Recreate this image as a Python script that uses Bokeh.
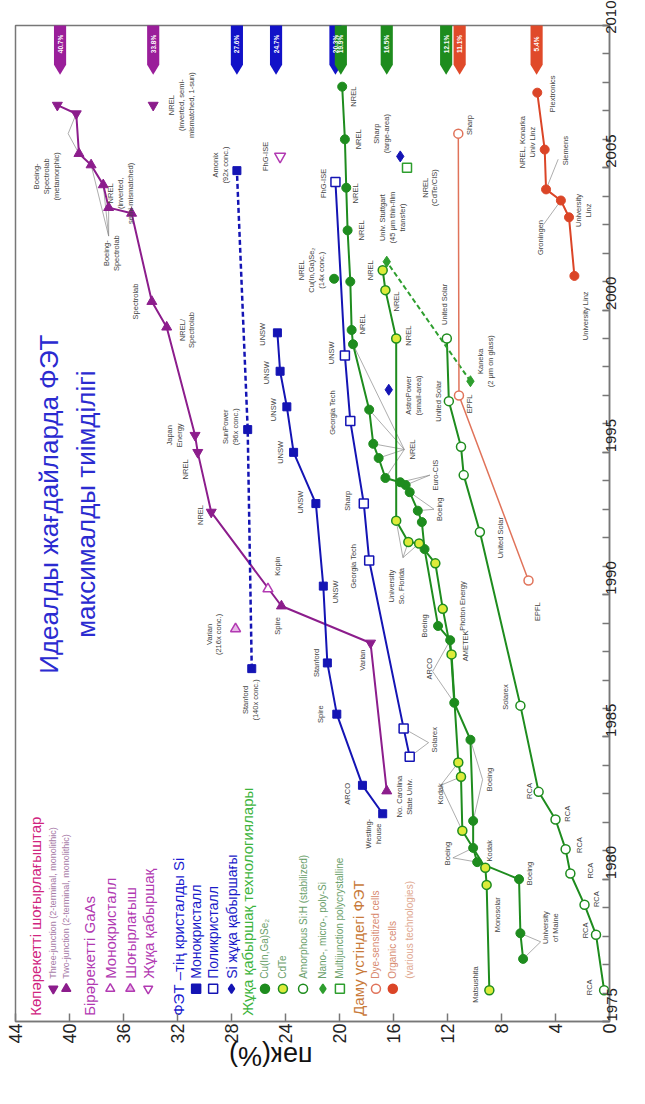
import math
from bokeh.plotting import figure
from bokeh.models import Range1d, FixedTicker, LinearAxis
from bokeh.core.properties import value
from bokeh.embed import file_html
from bokeh.resources import INLINE

FONT = "Liberation Sans"
ROT = math.pi / 2

# ---------------- data (efficiency %, year) ----------------
eff_ticks = [0, 4, 8, 12, 16, 20, 24, 28, 32, 36, 40, 44]
year_ticks = [1975, 1980, 1985, 1990, 1995, 2000, 2005, 2010]
year_minor = list(range(1975, 2011))

mj_year = [1983.1, 1988.3, 1989.6, 1992.9, 1995.0, 1995.6, 1999.4, 2000.3, 2003.4, 2003.6, 2004.4, 2005.1, 2005.5, 2006.9, 2007.2]
mj_eff = [16.5, 17.7, 24.3, 29.5, 30.5, 30.7, 32.8, 33.9, 35.4, 37.1, 37.5, 38.4, 39.3, 39.5, 40.9]
mj_kind = ["two", "three", "two", "three", "three", "three", "two", "two", "two", "two", "two", "two", "two", "three", "three"]
mj3_year = [2007.2]
mj3_eff = [33.8]

gaas_conc_year = [1988.8]
gaas_conc_eff = [27.7]
gaas_mono_year = [1990.2]
gaas_mono_eff = [25.3]
gaas_thin_year = [2005.4]
gaas_thin_eff = [24.4]

si_mono_year = [1982.3, 1983.3, 1985.8, 1987.6, 1990.3, 1993.2, 1995.0, 1996.6, 1997.85, 1999.2]
si_mono_eff = [16.8, 18.3, 20.2, 20.9, 21.2, 21.75, 23.4, 23.9, 24.4, 24.6]
si_conc_year = [1987.4, 1995.8, 2004.9]
si_conc_eff = [26.5, 26.8, 27.6]
si_multi_year = [1984.3, 1985.3, 1991.2, 1993.2, 1996.1, 1998.4, 2004.5]
si_multi_eff = [14.8, 15.25, 17.8, 18.2, 19.2, 19.6, 20.3]
si_thin_year = [1997.2, 2005.4]
si_thin_eff = [16.35, 15.5]

cigs_year = [1977.2, 1978.1, 1980.0, 1980.6, 1981.1, 1982.05, 1984.9, 1986.2, 1988.4, 1988.9, 1991.6, 1992.55,
             1992.95, 1993.6, 1993.85, 1993.95, 1994.1, 1994.8, 1995.3, 1996.5, 1998.8, 1999.3, 2001.0, 2002.8,
             2004.3, 2006.0, 2007.85]
cigs_eff = [6.4, 6.6, 6.7, 9.8, 10.1, 10.1, 10.3, 11.5, 11.8, 12.7, 13.7, 13.9, 14.2, 14.8, 15.1, 15.5, 16.6,
            17.1, 17.5, 17.8, 19.0, 19.1, 19.2, 19.4, 19.5, 19.6, 19.8]
cigs_conc_year = [2001.1]
cigs_conc_eff = [20.4]

cdte_year = [1976.1, 1979.8, 1980.4, 1981.7, 1983.6, 1984.1, 1987.9, 1989.5, 1991.1, 1991.8, 1991.85, 1992.6,
             1999.0, 2000.7, 2001.4]
cdte_eff = [8.9, 9.1, 9.2, 10.9, 11.0, 11.2, 11.7, 12.35, 12.9, 14.1, 14.9, 15.8, 15.8, 16.6, 16.8]

asi_year = [1976.1, 1978.05, 1979.1, 1980.2, 1981.05, 1982.1, 1983.07, 1986.1, 1992.2, 1994.2, 1995.2, 1996.8, 1999.0]
asi_eff = [0.4, 1.0, 1.85, 2.9, 3.25, 4.0, 5.25, 6.6, 9.6, 10.8, 11.0, 11.9, 12.05]

nano_year = [1997.5, 2001.7]
nano_eff = [10.3, 16.5]
mjpoly_year = [2005.0]
mjpoly_eff = [15.0]

dye_year = [1990.5, 1997.0, 2006.2]
dye_eff = [6.0, 11.15, 11.2]
org_year = [2001.2, 2003.26, 2003.85, 2004.24, 2005.64, 2007.64]
org_eff = [2.6, 3.0, 3.6, 4.7, 4.8, 5.35]

badge_vals = [40.7, 33.8, 27.6, 24.7, 20.3, 19.9, 16.5, 12.1, 11.1, 5.4]
badge_group = ["mj", "mj", "si", "si", "si", "tf", "tf", "tf", "em", "em"]

# point labels: text, efficiency, year
point_labels = [
    ("Boeing-\nSpectrolab\n(metamorphic)", 41.7, 2004.7),
    ("NREL\n(inverted,\nsemi-mismatched)", 36.2, 2004.1),
    ("NREL\n(inverted, semi-\nmismatched, 1-sun)", 31.7, 2007.2),
    ("Boeing-\nSpectrolab", 36.9, 2002.0),
    ("Spectrolab", 35.1, 2000.3),
    ("NREL/\nSpectrolab", 31.3, 1999.3),
    ("Japan\nEnergy", 32.2, 1995.6),
    ("NREL", 31.4, 1994.4),
    ("NREL", 30.3, 1992.8),
    ("Kopin", 24.6, 1991.0),
    ("Spire", 24.6, 1988.9),
    ("Varian\n(216x conc.)", 29.3, 1988.6),
    ("Varian", 18.3, 1987.7),
    ("No. Carolina\nState Univ.", 15.2, 1982.9),
    ("Westing-\nhouse", 17.5, 1981.6),
    ("ARCO", 19.4, 1983.0),
    ("Spire", 21.4, 1985.8),
    ("Stanford", 21.7, 1987.6),
    ("UNSW", 20.3, 1990.1),
    ("UNSW", 22.9, 1993.25),
    ("UNSW", 24.4, 1995.0),
    ("UNSW", 24.9, 1996.5),
    ("UNSW", 25.4, 1997.8),
    ("UNSW", 25.7, 1999.15),
    ("Stanford\n(140x conc.)", 26.6, 1986.3),
    ("SunPower\n(96x conc.)", 28.1, 1995.9),
    ("Amonix\n(92x conc.)", 28.8, 2005.1),
    ("FhG-ISE", 25.5, 2005.4),
    ("FhG-ISE", 21.2, 2004.45),
    ("UNSW", 20.6, 1998.5),
    ("Georgia Tech", 20.5, 1996.4),
    ("Sharp", 19.4, 1993.3),
    ("Georgia Tech", 19.0, 1991.0),
    ("Solarex", 13.0, 1984.9),
    ("Sharp\n(large-area)", 16.9, 2006.2),
    ("AstroPower\n(small-area)", 14.5, 1997.0),
    ("NREL\n(CdTe/CIS)", 13.3, 2004.3),
    ("Univ. Stuttgart\n(45 μm thin-film\ntransfer)", 16.1, 2003.25),
    ("Kaneka\n(2 μm on glass)", 9.2, 1998.2),
    ("EPFL", 10.4, 1996.7),
    ("United Solar", 12.2, 2000.2),
    ("United Solar", 12.7, 1996.8),
    ("Sharp", 10.4, 2006.5),
    ("NREL, Konarka\nUniv Linz", 6.1, 2005.9),
    ("Plextronics", 4.2, 2007.6),
    ("Siemens", 3.25, 2005.6),
    ("Groningen", 5.1, 2002.55),
    ("University\nLinz", 1.9, 2003.5),
    ("University Linz", 1.8, 1999.8),
    ("EPFL", 5.3, 1989.4),
    ("NREL", 19.0, 2007.5),
    ("NREL", 18.6, 2006.0),
    ("NREL", 18.8, 2004.1),
    ("NREL", 18.4, 2002.8),
    ("NREL", 17.7, 2001.4),
    ("NREL", 15.8, 2000.3),
    ("NREL", 14.9, 1999.1),
    ("NREL", 18.3, 1999.5),
    ("NREL\nCu(In,Ga)Se₂\n(14x conc.)", 22.1, 2001.4),
    ("NREL", 14.6, 1995.1),
    ("Euro-CIS", 12.9, 1994.2),
    ("Boeing", 12.6, 1993.0),
    ("University\nSo. Florida", 15.75, 1990.3),
    ("Photon Energy", 10.9, 1989.6),
    ("United Solar", 8.1, 1992.0),
    ("Boeing", 13.7, 1988.9),
    ("ARCO", 13.3, 1987.4),
    ("AMETEK", 10.7, 1988.2),
    ("Solarex", 7.7, 1986.4),
    ("Kodak", 12.5, 1983.0),
    ("Boeing", 8.9, 1983.5),
    ("Boeing", 12.0, 1980.9),
    ("Kodak", 8.9, 1981.0),
    ("Boeing", 5.9, 1980.2),
    ("Monosolar", 8.3, 1978.75),
    ("University\nof Maine", 4.4, 1978.3),
    ("Matsushita", 9.9, 1976.3),
    ("RCA", 1.5, 1976.2), ("RCA", 1.8, 1978.2), ("RCA", 1.0, 1979.3), ("RCA", 1.4, 1980.3),
    ("RCA", 2.2, 1981.2), ("RCA", 3.1, 1982.3), ("RCA", 5.9, 1983.1),
]

# leader lines: anchor (eff, year) -> (series, index)
leaders = [
    (40.1, 2006.2, "mj", 13), (40.1, 2006.2, "mj", 12),
    (37.1, 2002.6, "mj", 9), (37.1, 2002.6, "mj", 10), (37.1, 2002.6, "mj", 11),
    (13.4, 1984.8, "si_multi", 0), (13.4, 1984.8, "si_multi", 1),
    (12.5, 1983.3, "cdte", 3), (12.5, 1983.3, "cdte", 4), (12.5, 1983.3, "cdte", 5),
    (9.4, 1983.5, "cigs", 5), (9.4, 1983.5, "cigs", 6),
    (11.6, 1980.75, "cigs", 3), (11.6, 1980.75, "cigs", 4),
    (5.1, 1977.8, "cigs", 0), (5.1, 1977.8, "cigs", 1),
    (13.1, 1987.3, "cigs", 7), (13.1, 1987.3, "cigs", 8),
    (15.3, 1991.3, "cdte", 9), (15.3, 1991.3, "cdte", 10), (15.3, 1991.3, "cdte", 11),
    (13.0, 1993.0, "cigs", 12), (13.0, 1993.0, "cigs", 13),
    (15.2, 1995.1, "cigs", 16), (15.2, 1995.1, "cigs", 17), (15.2, 1995.1, "cigs", 18),
    (15.2, 1995.1, "cigs", 19), (15.2, 1995.1, "cigs", 20),
    (13.3, 1994.2, "cigs", 14), (13.3, 1994.2, "cigs", 15),
    (4.9, 2003.0, "org", 2), (3.8, 2005.3, "org", 3),
]

# legend entries
legend_headers = [
    ("Көпәрекетті шоғырлағыштар", 42.5, "#D0247F"),
    ("Бірәрекетті GaAs", 38.5, "#B23AB2"),
    ("ФЭТ –тің кристалды Si", 31.95, "#1A1AD0"),
    ("Жұқа қабыршақ технологиялары", 26.8, "#3CB43C"),
    ("Даму үстіндегі ФЭТ", 18.6, "#C87A3A"),
]

# ---------------- colours ----------------
PURPLE = "#8C1D8C"
GAAS = "#B23AB2"
BLUE = "#1414B4"
GREEN = "#1E8C1E"
MGREEN = "#2E9E2E"
CDTE_FILL = "#DDEB3A"
DYE = "#E0735A"
ORG = "#DB4527"
GREY = "#444444"
BADGE_COL = {"mj": "#9A1E9A", "si": "#1212C8", "tf": "#1E8C1E", "em": "#E04A2A"}

p = figure(width=629, height=1088, x_range=Range1d(44, 0), y_range=Range1d(1975, 2010),
           output_backend="svg", toolbar_location=None, y_axis_location="right",
           min_border_left=15, min_border_right=20, min_border_top=25, min_border_bottom=66)
p.grid.visible = False
p.outline_line_color = "#777777"
p.outline_line_width = 1.5
p.background_fill_color = "white"

xa = p.xaxis[0]
xa.ticker = FixedTicker(ticks=eff_ticks)
xa.major_tick_in = 8
xa.major_tick_out = 0
xa.minor_tick_line_color = None
xa.major_label_orientation = ROT
xa.major_label_text_font = FONT
xa.major_label_text_font_size = "18px"
xa.major_label_text_color = "#222222"
xa.axis_line_color = "#777777"
xa.axis_line_width = 1.5
xa.major_tick_line_color = "#777777"
xa.major_tick_line_width = 1.5
xa.major_label_standoff = 2

# second, bare axis that only carries the upside-down axis title (as in the rotated original)
title_axis = LinearAxis(ticker=FixedTicker(ticks=[]), axis_line_color=None,
                        major_tick_line_color=None, minor_tick_line_color=None,
                        major_tick_in=0, major_tick_out=0, minor_tick_in=0, minor_tick_out=0,
                        major_label_standoff=0,
                        axis_label="пәк(%)", axis_label_text_font=FONT, axis_label_text_font_size="27px",
                        axis_label_text_font_style="normal", axis_label_text_color="#111111",
                        axis_label_standoff=9)
title_axis.axis_label_orientation = -math.pi
p.add_layout(title_axis, "below")

ya = p.yaxis[0]
ya.ticker = FixedTicker(ticks=year_ticks, minor_ticks=year_minor)
ya.major_tick_in = 7
ya.major_tick_out = 0
ya.minor_tick_in = 7
ya.minor_tick_out = 0
ya.major_label_orientation = ROT
ya.major_label_text_font = FONT
ya.major_label_text_font_size = "15px"
ya.major_label_text_color = "#222222"
ya.axis_line_color = "#777777"
ya.axis_line_width = 1.5
ya.major_tick_line_color = "#777777"
ya.minor_tick_line_color = "#777777"
ya.major_tick_line_width = 1.5
ya.minor_tick_line_width = 1.5
ya.major_label_standoff = 2

series = {
    "mj": (mj_eff, mj_year), "si_multi": (si_multi_eff, si_multi_year), "cdte": (cdte_eff, cdte_year),
    "cigs": (cigs_eff, cigs_year), "org": (org_eff, org_year),
}

# leader lines
lx0 = [a[0] for a in leaders]
ly0 = [a[1] for a in leaders]
lx1 = [series[a[2]][0][a[3]] for a in leaders]
ly1 = [series[a[2]][1][a[3]] for a in leaders]
p.segment(lx0, ly0, lx1, ly1, line_color="#8A8A8A", line_width=0.7)

# ---------------- series ----------------
p.line(mj_eff, mj_year, line_color=PURPLE, line_width=2)
for kind, mk in (("two", "triangle"), ("three", "inverted_triangle")):
    xs = [e for e, k in zip(mj_eff, mj_kind) if k == kind]
    ys = [y for y, k in zip(mj_year, mj_kind) if k == kind]
    p.scatter(xs, ys, marker=mk, size=10, fill_color=PURPLE, line_color=PURPLE)
p.scatter(mj3_eff, mj3_year, marker="inverted_triangle", size=10, fill_color=PURPLE, line_color=PURPLE)
p.scatter(gaas_conc_eff, gaas_conc_year, marker="triangle", size=10, fill_color="#E8B8E8", line_color=GAAS, line_width=1.5)
p.scatter(gaas_mono_eff, gaas_mono_year, marker="triangle", size=10, fill_color="white", line_color=GAAS, line_width=1.5)
p.scatter(gaas_thin_eff, gaas_thin_year, marker="inverted_triangle", size=11, fill_color="white", line_color=GAAS, line_width=1.5)

p.line(si_mono_eff, si_mono_year, line_color=BLUE, line_width=2)
p.scatter(si_mono_eff, si_mono_year, marker="square", size=8, fill_color=BLUE, line_color=BLUE)
p.line(si_conc_eff, si_conc_year, line_color=BLUE, line_width=2.5, line_dash="5 3")
p.scatter(si_conc_eff, si_conc_year, marker="square", size=8, fill_color=BLUE, line_color=BLUE)
p.line(si_multi_eff, si_multi_year, line_color=BLUE, line_width=2)
p.scatter(si_multi_eff, si_multi_year, marker="square", size=9, fill_color="white", line_color=BLUE, line_width=1.5)
p.scatter(si_thin_eff, si_thin_year, marker="diamond", size=11, fill_color=BLUE, line_color=BLUE)

p.line(asi_eff, asi_year, line_color=GREEN, line_width=2)
p.scatter(asi_eff, asi_year, marker="circle", size=9, fill_color="white", line_color=GREEN, line_width=1.5)
p.line(cigs_eff, cigs_year, line_color=GREEN, line_width=2)
p.scatter(cigs_eff, cigs_year, marker="circle", size=9, fill_color=GREEN, line_color=GREEN)
p.scatter(cigs_conc_eff, cigs_conc_year, marker="circle", size=9, fill_color=GREEN, line_color=GREEN)
p.line(cdte_eff, cdte_year, line_color=GREEN, line_width=2)
p.scatter(cdte_eff, cdte_year, marker="circle", size=9, fill_color=CDTE_FILL, line_color=GREEN, line_width=1.5)
p.line(nano_eff, nano_year, line_color=MGREEN, line_width=2, line_dash="5 3")
p.scatter(nano_eff, nano_year, marker="diamond", size=11, fill_color=MGREEN, line_color=MGREEN)
p.scatter(mjpoly_eff, mjpoly_year, marker="square", size=9, fill_color="white", line_color=MGREEN, line_width=1.5)

p.line(dye_eff, dye_year, line_color=DYE, line_width=1.5)
p.scatter(dye_eff, dye_year, marker="circle", size=9, fill_color="white", line_color=DYE, line_width=1.5)
p.line(org_eff, org_year, line_color=ORG, line_width=2)
p.scatter(org_eff, org_year, marker="circle", size=9, fill_color=ORG, line_color=ORG)

# point labels
p.text([l[1] for l in point_labels], [l[2] for l in point_labels], text=[l[0] for l in point_labels],
       angle=ROT, text_align="center", text_baseline="middle", text_font=value(FONT),
       text_font_size="7.5px", text_color=GREY, text_line_height=1.1)

# ---------------- badges at the top ----------------
bw = 0.45
bxs = [[v - bw, v + bw, v + bw, v, v - bw] for v in badge_vals]
bys = [[2010.3, 2010.3, 2008.62, 2008.27, 2008.62] for v in badge_vals]
p.patches(bxs, bys, fill_color=[BADGE_COL[g] for g in badge_group], line_color=None)
p.text(badge_vals, [2009.35] * len(badge_vals), text=[f"{v}%" for v in badge_vals], angle=ROT,
       text_align="center", text_baseline="middle", text_font=value(FONT), text_font_size="6.5px",
       text_font_style="bold", text_color="white")

# ---------------- title ----------------
p.text([40.16], [1993.18], text=["Идеалды жағдайларда ФЭТ\nмаксималды тиімділігі"], angle=ROT,
       text_align="center", text_baseline="middle", text_font=value(FONT), text_font_size="26px",
       text_color="#2B2BD0", text_line_height=1.25)

# ---------------- legend ----------------
Y_HEAD = 1975.2
p.text([h[1] for h in legend_headers], [Y_HEAD] * len(legend_headers), text=[h[0] for h in legend_headers],
       angle=ROT, text_align="left", text_baseline="middle", text_font=value(FONT), text_font_size="15px",
       text_color=[h[2] for h in legend_headers])

legend_items = [
    # text, eff, marker, fill, line, text colour, size
    ("Three-junction (2-terminal, monolithic)", 41.2, "inverted_triangle", PURPLE, PURPLE, "#A77BA7", "9px"),
    ("Two-junction (2-terminal, monolithic)", 40.24, "triangle", PURPLE, PURPLE, "#A77BA7", "9px"),
    ("Монокристалл", 36.98, "triangle", "white", GAAS, GAAS, "15px"),
    ("Шоғырлағыш", 35.5, "triangle", "#E8B8E8", GAAS, GAAS, "15px"),
    ("Жұқа қабыршақ", 34.17, "inverted_triangle", "white", GAAS, GAAS, "15px"),
    ("Монокристалл", 30.62, "square", BLUE, BLUE, "#1A1AC8", "14px"),
    ("Поликристалл", 29.36, "square", "white", BLUE, "#1A1AC8", "14px"),
    ("Si жұқа қабыршағы", 28.0, "diamond", BLUE, BLUE, "#1A1AC8", "14px"),
    ("Cu(In,Ga)Se₂", 25.52, "circle", GREEN, GREEN, "#6AA06A", "10px"),
    ("CdTe", 24.19, "circle", CDTE_FILL, GREEN, "#6AA06A", "10px"),
    ("Amorphous Si:H (stabilized)", 22.7, "circle", "white", GREEN, "#6AA06A", "10px"),
    ("Nano-, micro-, poly-Si", 21.23, "diamond", MGREEN, MGREEN, "#6AA06A", "10px"),
    ("Multijunction polycrystalline", 19.97, "square", "white", MGREEN, "#6AA06A", "10px"),
    ("Dye-sensitized cells", 17.3, "circle", "white", DYE, "#D88A70", "10px"),
    ("Organic cells", 16.05, "circle", ORG, ORG, "#D88A70", "10px"),
]
Y_MARK = 1976.15
Y_TXT = 1976.5
for txt, ex, mk, fc, lc, tc, fs in legend_items:
    p.scatter([ex], [Y_MARK], marker=mk, size=9, fill_color=fc, line_color=lc, line_width=1.5)
    p.text([ex], [Y_TXT], text=[txt], angle=ROT, text_align="left", text_baseline="middle",
           text_font=value(FONT), text_font_size=fs, text_color=tc)
p.text([14.8], [Y_TXT], text=["(various technologies)"], angle=ROT, text_align="left", text_baseline="middle",
       text_font=value(FONT), text_font_size="10px", text_color="#E0A890")

open("out.html", "w").write(file_html(p, INLINE))
